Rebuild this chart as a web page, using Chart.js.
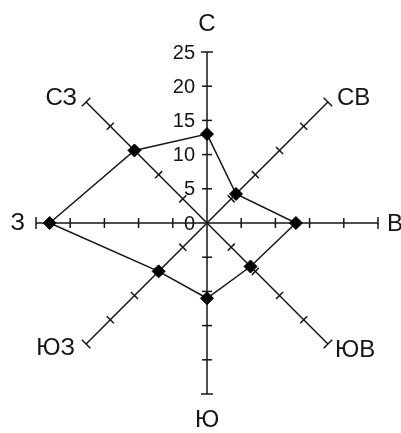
<!DOCTYPE html>
<html>
<head>
<meta charset="utf-8">
<script src="https://cdn.jsdelivr.net/npm/chart.js@4/dist/chart.umd.min.js"></script>
<style>
  html, body { margin: 0; padding: 0; background: #fff; }
  #wrap { width: 401px; height: 433px; }
</style>
</head>
<body>
<div id="wrap"><canvas id="c" width="401" height="433"></canvas></div>
<script>
// Directions (wind rose)
const directions = ['С', 'СВ', 'В', 'ЮВ', 'Ю', 'ЮЗ', 'З', 'СЗ'];
// Frequency values per direction
const windValues = [13, 6, 13, 9, 11, 10, 23, 15];
// Scale tick labels
const tickValues = [0, 5, 10, 15, 20, 25];

const FONT = '"Liberation Sans", Arial, sans-serif';
const INK = '#151515';

// label placement relative to axis end
const labelPlace = [
  { along: 28, dx: 0, dy: 0, align: 'center' },
  { along: 0, dx: 9, dy: -4, align: 'left' },
  { along: 0, dx: 9, dy: 1, align: 'left' },
  { along: 0, dx: 7, dy: 6, align: 'left' },
  { along: 26, dx: 0, dy: 0, align: 'center' },
  { along: 0, dx: -11, dy: 4, align: 'right' },
  { along: 0, dx: -11, dy: 0, align: 'right' },
  { along: 0, dx: -9, dy: -4, align: 'right' }
];

const roseDecor = {
  id: 'roseDecor',
  beforeDatasetsDraw(chart) {
    const s = chart.scales.r;
    const ctx = chart.ctx;
    ctx.save();
    ctx.strokeStyle = INK;
    ctx.lineWidth = 1.5;
    for (let i = 0; i < directions.length; i++) {
      const a = s.getIndexAngle(i) - Math.PI / 2;
      const nx = -Math.sin(a), ny = Math.cos(a);
      tickValues.forEach(v => {
        if (v === 0) return;
        const p = s.getPointPositionForValue(i, v);
        const h = v === tickValues[tickValues.length - 1] ? 6 : 5;
        ctx.beginPath();
        ctx.moveTo(p.x - nx * h, p.y - ny * h);
        ctx.lineTo(p.x + nx * h, p.y + ny * h);
        ctx.stroke();
      });
    }
    ctx.restore();
  },
  afterDraw(chart) {
    const s = chart.scales.r;
    const ctx = chart.ctx;
    ctx.save();
    ctx.fillStyle = INK;
    // tick labels along north axis
    ctx.font = '20px ' + FONT;
    ctx.textAlign = 'right';
    ctx.textBaseline = 'middle';
    tickValues.forEach(v => {
      const p = s.getPointPositionForValue(0, v);
      ctx.fillText(String(v), p.x - 12, p.y + 1);
    });
    // direction labels
    ctx.font = '24px ' + FONT;
    for (let i = 0; i < directions.length; i++) {
      const lp = labelPlace[i];
      const p = s.getPointPosition(i, s.drawingArea + lp.along);
      ctx.textAlign = lp.align;
      ctx.fillText(directions[i], p.x + lp.dx, p.y + lp.dy);
    }
    ctx.restore();
  }
};

new Chart(document.getElementById('c'), {
  type: 'radar',
  data: {
    labels: directions,
    datasets: [{
      data: windValues,
      borderColor: INK,
      borderWidth: 1.5,
      fill: false,
      pointStyle: 'rectRot',
      pointRadius: 6.5,
      pointBackgroundColor: '#000',
      pointBorderColor: '#000',
      pointBorderWidth: 1,
      tension: 0
    }]
  },
  options: {
    responsive: false,
    animation: false,
    devicePixelRatio: 1,
    layout: { padding: { left: 36, right: 23, top: 52, bottom: 39 } },
    plugins: { legend: { display: false }, tooltip: { enabled: false } },
    scales: {
      r: {
        min: 0,
        max: 25,
        ticks: { display: false, stepSize: 5 },
        grid: { display: false },
        angleLines: { display: true, color: INK, lineWidth: 1.5 },
        pointLabels: { display: false }
      }
    }
  },
  plugins: [roseDecor]
});
</script>
</body>
</html>
